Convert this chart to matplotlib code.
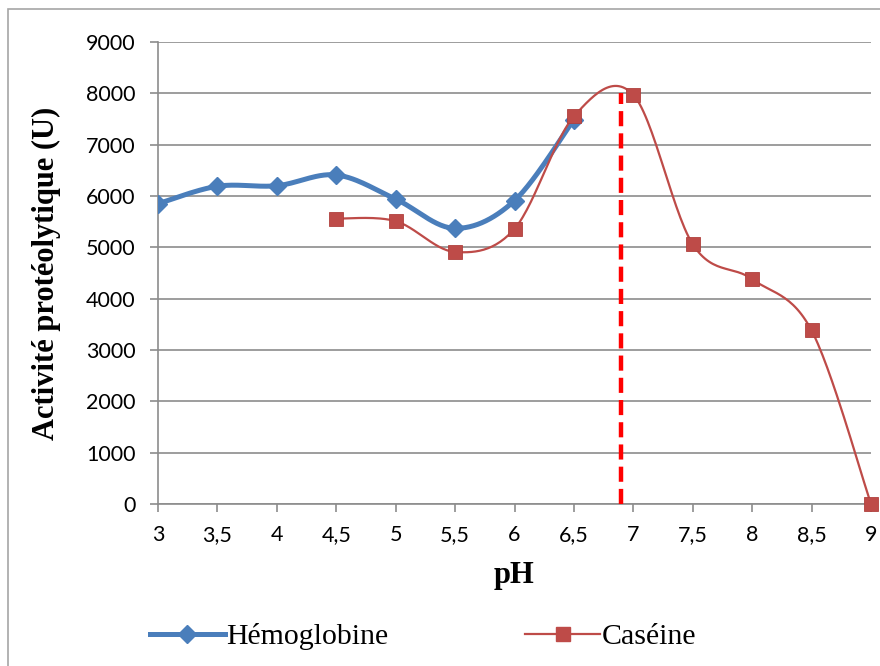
import numpy as np
import matplotlib
matplotlib.use("Agg")
import matplotlib.pyplot as plt
from matplotlib.patches import Rectangle

# data
ph = [3, 3.5, 4, 4.5, 5, 5.5, 6, 6.5, 7, 7.5, 8, 8.5, 9]
ph_labels = ["3", "3,5", "4", "4,5", "5", "5,5", "6", "6,5", "7", "7,5", "8", "8,5", "9"]
ph_hemo = [3, 3.5, 4, 4.5, 5, 5.5, 6, 6.5]
hemoglobine = [5850, 6190, 6200, 6410, 5940, 5370, 5910, 7490]
ph_cas = [4.5, 5, 5.5, 6, 6.5, 7, 7.5, 8, 8.5, 9]
caseine = [5560, 5510, 4910, 5360, 7550, 7970, 5060, 4380, 3380, 0]
ph_opt = 6.9
ph_opt_top = 8000
yticks = [0, 1000, 2000, 3000, 4000, 5000, 6000, 7000, 8000, 9000]


def smooth(x, y, n=30):
    # Excel-like smoothing: Catmull-Rom via cubic Bezier segments
    x = np.asarray(x, float)
    y = np.asarray(y, float)
    pts = np.column_stack([x, y])
    out = []
    for i in range(len(pts) - 1):
        p0 = pts[i - 1] if i > 0 else pts[i]
        p1 = pts[i]
        p2 = pts[i + 1]
        p3 = pts[i + 2] if i + 2 < len(pts) else pts[i + 1]
        c1 = p1 + (p2 - p0) / 6.0
        c2 = p2 - (p3 - p1) / 6.0
        t = np.linspace(0, 1, n)[:, None]
        seg = ((1 - t) ** 3) * p1 + 3 * ((1 - t) ** 2) * t * c1 + 3 * (1 - t) * t ** 2 * c2 + t ** 3 * p2
        out.append(seg if i == 0 else seg[1:])
    out = np.vstack(out)
    return out[:, 0], out[:, 1]


blue = "#4A7EBB"
red = "#BE4B48"
grid_c = "#8C8C8C"

fig = plt.figure(figsize=(8.8, 6.66), dpi=100)
fig.patches.append(Rectangle((8 / 880, -0.05), 1.2, 1 - 9 / 666 + 0.05,
                             transform=fig.transFigure, fill=False,
                             edgecolor="#A6A6A6", linewidth=1.2))
ax = fig.add_axes([158 / 880, 1 - 504 / 666, (871 - 158) / 880, (504 - 42) / 666])

hx, hy = smooth(ph_hemo, hemoglobine)
ax.plot(hx, hy, color=blue, lw=3.6, solid_capstyle="round", zorder=3)
ax.plot(ph_hemo, hemoglobine, ls="none", marker="D", ms=9.5, color=blue, zorder=4)

cx, cy = smooth(ph_cas, caseine)
ax.plot(cx, cy, color=red, lw=1.6, zorder=5)
ax.plot(ph_cas, caseine, ls="none", marker="s", ms=10, color=red,
        markeredgecolor="#B0403D", markeredgewidth=0.6, zorder=6, clip_on=False)

ax.plot([ph_opt, ph_opt], [0, ph_opt_top], color="#FF0000", lw=3.2,
        dashes=(3.4, 1.6), zorder=7)

ax.set_xlim(ph[0], ph[-1])
ax.set_ylim(0, 9000)
ax.set_xticks(ph)
ax.set_xticklabels(ph_labels)
ax.set_yticks(yticks)
ax.set_yticklabels([str(v) for v in yticks])
ax.yaxis.grid(True, color=grid_c, lw=1.2)
ax.set_axisbelow(True)

for side in ["top", "right"]:
    ax.spines[side].set_visible(False)
for side in ["left", "bottom"]:
    ax.spines[side].set_color(grid_c)
    ax.spines[side].set_linewidth(1.2)

ax.tick_params(axis="both", colors=grid_c, length=6, width=1.2, direction="out")
ax.tick_params(axis="y", pad=10)
ax.tick_params(axis="x", pad=9)
for lab in ax.get_xticklabels() + ax.get_yticklabels():
    lab.set_color("black")
    lab.set_fontfamily("Lato")
    lab.set_fontsize(15.5)

ax.set_ylabel("Activité protéolytique (U)", fontfamily="Liberation Serif",
              fontweight="bold", fontsize=22, labelpad=18)
ax.set_xlabel("pH", fontfamily="Liberation Serif", fontweight="bold",
              fontsize=22, labelpad=12)

h1, = ax.plot([], [], color=blue, lw=3.6, marker="D", ms=9.5)
h2, = ax.plot([], [], color=red, lw=1.6, marker="s", ms=10)
fig.legend([h1, h2], ["Hémoglobine", "Caséine"], loc="center",
           bbox_to_anchor=(423 / 880, 1 - 637 / 666), ncol=2, frameon=False,
           prop={"family": "Liberation Serif", "size": 21.5},
           handlelength=2.5, handletextpad=0.05, columnspacing=4.6)

fig.savefig("out.png", dpi=100)
